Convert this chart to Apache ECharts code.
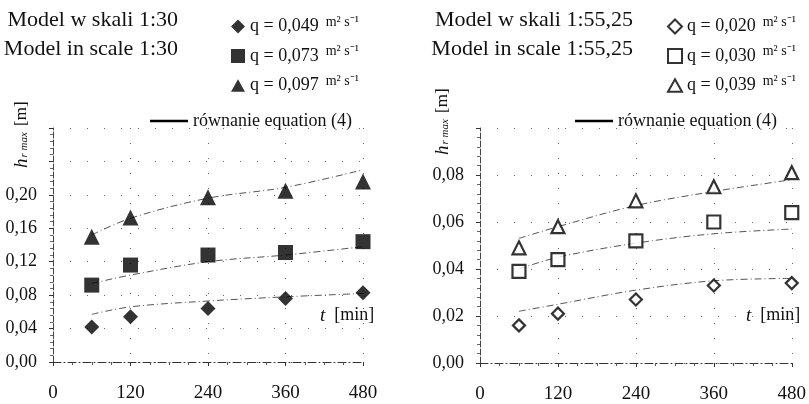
<!DOCTYPE html>
<html>
<head>
<meta charset="utf-8">
<script src="https://cdn.jsdelivr.net/npm/echarts@6/dist/echarts.min.js"></script>
<style>
  html, body { margin: 0; padding: 0; background: #fff; }
  #main { width: 809px; height: 404px; }
</style>
</head>
<body>
<div id="main"></div>
<script>
// czas t [min]
var tMin = [60, 120, 240, 360, 480];
var xTicks = [0, 120, 240, 360, 480];

// model 1:30 - pomiary
var q049 = [0.042, 0.054, 0.064, 0.076, 0.083];
var q073 = [0.092, 0.116, 0.128, 0.131, 0.144];
var q097 = [0.150, 0.173, 0.197, 0.205, 0.216];
// model 1:30 - rownanie (4)
var eq049 = [0.057, 0.066, 0.073, 0.078, 0.082];
var eq073 = [0.094, 0.104, 0.120, 0.128, 0.138];
var eq097 = [0.152, 0.172, 0.196, 0.209, 0.230];

// model 1:55,25 - pomiary
var q020 = [0.016, 0.021, 0.027, 0.033, 0.034];
var q030 = [0.039, 0.044, 0.052, 0.060, 0.064];
var q039 = [0.049, 0.058, 0.069, 0.075, 0.081];
// model 1:55,25 - rownanie (4)
var eq020 = [0.022, 0.025, 0.031, 0.035, 0.036];
var eq030 = [0.040, 0.045, 0.051, 0.055, 0.057];
var eq039 = [0.053, 0.058, 0.067, 0.073, 0.078];

var leftTicks = [0, 0.04, 0.08, 0.12, 0.16, 0.20];
var rightTicks = [0, 0.02, 0.04, 0.06, 0.08];

var EQ = 'równanie equation (4)';
var serif = 'Liberation Serif';

function pts(ys) {
    return tMin.map(function (t, i) { return [t, ys[i]]; });
}
function comma(v, shown) {
    for (var i = 0; i < shown.length; i++) {
        if (Math.abs(shown[i] - v) < 1e-9) return v.toFixed(2).replace('.', ',');
    }
    return '';
}

var triPath = 'path://M5,0 L10,9 L0,9 Z';

function meas(name, data, xi, symbol, size, hollow) {
    return {
        name: name, type: 'scatter', xAxisIndex: xi, yAxisIndex: xi,
        data: pts(data), symbol: symbol, symbolSize: size, z: 5,
        itemStyle: hollow
            ? { color: '#fff', borderColor: '#000', borderWidth: 2.2 }
            : { color: '#000' }
    };
}
function curve(data, xi) {
    return {
        name: EQ, type: 'line', xAxisIndex: xi, yAxisIndex: xi,
        data: pts(data), symbol: 'none', smooth: 0.35, z: 3,
        itemStyle: { color: '#000' },
        lineStyle: { color: '#555', width: 1, type: [7, 3, 1, 3] }
    };
}

function xAx(gi) {
    return {
        type: 'value', gridIndex: gi, min: 0, max: 480, interval: 120,
        axisLine: { lineStyle: { color: '#333', width: 1, type: [8, 3, 1, 3] } },
        axisTick: { show: true, length: 4, lineStyle: { color: '#333' } },
        minorTick: { show: true, splitNumber: 4, length: 3, lineStyle: { color: '#555' } },
        axisLabel: {
            margin: 22, color: '#111', fontFamily: serif, fontSize: 19,
            formatter: function (v) { return xTicks.indexOf(v) >= 0 ? String(v) : ''; }
        },
        splitLine: { show: true, lineStyle: { color: '#666', width: 1, type: [1, 14] } }
    };
}
function yAx(gi, max, step, shown) {
    return {
        type: 'value', gridIndex: gi, min: 0, max: max, interval: step,
        axisLine: { show: true, lineStyle: { color: '#444', width: 1, type: [6, 2] } },
        axisTick: { show: true, length: 4, lineStyle: { color: '#333' } },
        minorTick: { show: true, splitNumber: 5, length: 3, lineStyle: { color: '#666' } },
        axisLabel: {
            margin: 16, color: '#111', fontFamily: serif, fontSize: 18,
            formatter: function (v) { return comma(v, shown); }
        },
        splitLine: { show: true, lineStyle: { color: '#666', width: 1, type: [1, 16] } }
    };
}

function qLegend(x, names) {
    return {
        orient: 'vertical', left: x, top: 10, itemGap: 9,
        itemWidth: 14, itemHeight: 14, data: names,
        inactiveColor: '#000',
        textStyle: {
            fontFamily: serif, color: '#111', fontSize: 18,
            rich: {
                q: { fontFamily: serif, fontSize: 18, color: '#111' },
                u: { fontFamily: serif, fontSize: 14, color: '#111', padding: [0, 0, 9, 0] }
            }
        },
        formatter: function (n) { return '{q|' + n + '}{u|  m² s⁻¹}'; }
    };
}
function eqLegend(x) {
    return {
        left: x, top: 107, data: [EQ], icon: 'rect',
        itemWidth: 38, itemHeight: 2.5, itemGap: 4,
        itemStyle: { color: '#000' },
        lineStyle: { color: '#000', width: 2.5, type: 'solid' },
        textStyle: { fontFamily: serif, color: '#111', fontSize: 18 }
    };
}

var myChart = echarts.init(document.getElementById('main'));

var option = {
    backgroundColor: '#fff',
    animation: false,
    grid: [
        { left: 53, top: 128, width: 310, height: 234 },
        { left: 480, top: 128, width: 312, height: 237 }
    ],
    xAxis: [xAx(0), xAx(1)],
    yAxis: [yAx(0, 0.28, 0.04, leftTicks), yAx(1, 0.10, 0.02, rightTicks)],
    legend: [
        qLegend(226, ['q = 0,049', 'q = 0,073', 'q = 0,097']),
        qLegend(662, ['q = 0,020', 'q = 0,030', 'q = 0,039']),
        eqLegend(145),
        eqLegend(570)
    ],
    graphic: [
        { type: 'text', right: 631, top: 9, style: { text: 'Model w skali 1:30', fontFamily: serif, fontSize: 22, fill: '#111' } },
        { type: 'text', right: 631, top: 38, style: { text: 'Model in scale 1:30', fontFamily: serif, fontSize: 22, fill: '#111' } },
        { type: 'text', right: 176, top: 9, style: { text: 'Model w skali 1:55,25', fontFamily: serif, fontSize: 22, fill: '#111' } },
        { type: 'text', right: 176, top: 38, style: { text: 'Model in scale 1:55,25', fontFamily: serif, fontSize: 22, fill: '#111' } },
        { type: 'text', x: 320, y: 306, style: { text: '{t|t}  [min]', fontFamily: serif, fontSize: 18, fill: '#111',
            rich: { t: { fontFamily: serif, fontStyle: 'italic', fontSize: 19, fill: '#111' } } } },
        { type: 'text', x: 746, y: 306, style: { text: '{t|t}  [min]', fontFamily: serif, fontSize: 18, fill: '#111',
            rich: { t: { fontFamily: serif, fontStyle: 'italic', fontSize: 19, fill: '#111' } } } },
        { type: 'text', x: 12, y: 168, rotation: Math.PI / 2, style: { text: '{h|h}{s|r max} [m]', fontFamily: serif, fontSize: 17, fill: '#111',
            rich: { h: { fontFamily: serif, fontStyle: 'italic', fontSize: 19 }, s: { fontFamily: serif, fontStyle: 'italic', fontSize: 11, padding: [6, 2, 0, 1] } } } },
        { type: 'text', x: 433, y: 155, rotation: Math.PI / 2, style: { text: '{h|h}{s|r max} [m]', fontFamily: serif, fontSize: 17, fill: '#111',
            rich: { h: { fontFamily: serif, fontStyle: 'italic', fontSize: 19 }, s: { fontFamily: serif, fontStyle: 'italic', fontSize: 11, padding: [6, 2, 0, 1] } } } }
    ],
    series: [
        curve(eq049, 0), curve(eq073, 0), curve(eq097, 0),
        meas('q = 0,049', q049, 0, 'diamond', 15, false),
        meas('q = 0,073', q073, 0, 'rect', 15, false),
        meas('q = 0,097', q097, 0, triPath, 16, false),
        curve(eq020, 1), curve(eq030, 1), curve(eq039, 1),
        meas('q = 0,020', q020, 1, 'diamond', 12, true),
        meas('q = 0,030', q030, 1, 'rect', 13, true),
        meas('q = 0,039', q039, 1, triPath, 13, true)
    ]
};
myChart.setOption(option);
</script>
</body>
</html>
